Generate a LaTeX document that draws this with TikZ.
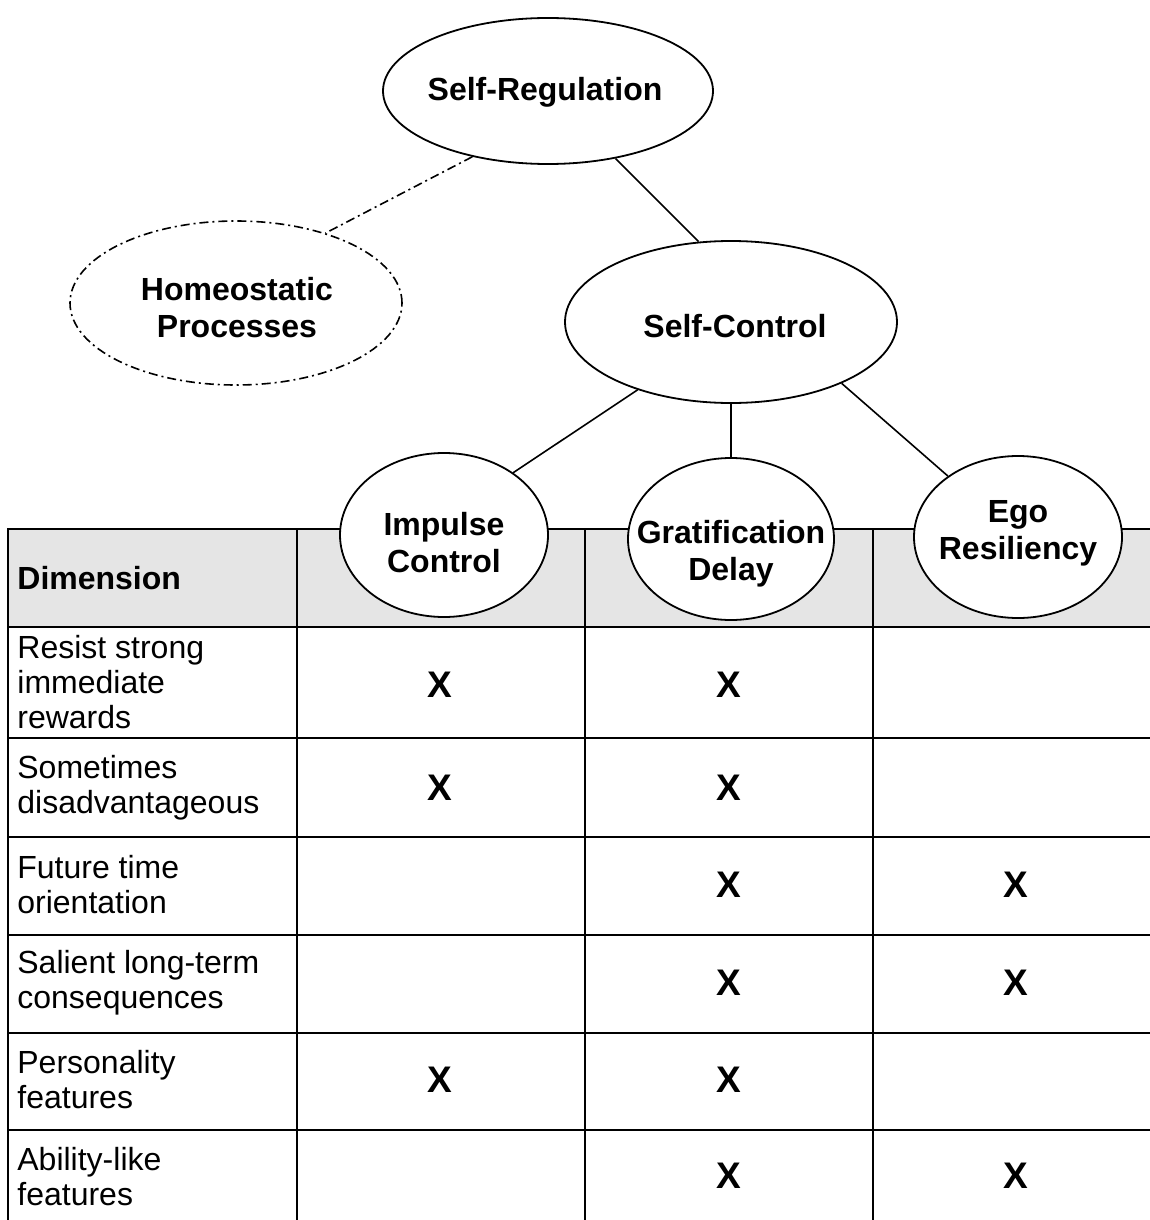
\documentclass[tikz,border=0pt]{standalone}
\usepackage{fontspec}
\setmainfont{Liberation Sans}
\usetikzlibrary{shapes.geometric}
\begin{document}
\begin{tikzpicture}[x=0.5pt,y=-0.5pt,
  bub/.style={draw,ellipse,fill=white,line width=0.9pt,inner sep=0pt},
  hp/.style={draw,ellipse,fill=white,line width=0.8pt,inner sep=0pt,dash pattern=on 4.5pt off 2pt on 1pt off 2pt},
  btxt/.style={font=\fontsize{16}{18.5}\selectfont\bfseries,align=center,inner sep=0pt},
  rtxt/.style={font=\fontsize{16}{17.5}\selectfont,align=left,anchor=west,inner sep=0pt},
  xmark/.style={font=\fontsize{18.5}{20}\selectfont\bfseries,inner sep=0pt},
  tline/.style={line width=1.2pt},
  conn/.style={line width=0.8pt}]
\useasboundingbox (0,0) rectangle (1150,1220);
% header background
\fill[gray!20] (8,529) rectangle (1152,627);
% table grid
\draw[tline] (1152,529) -- (8,529) -- (8,1222);
\foreach \x in {297,585,873} \draw[tline] (\x,529) -- (\x,1222);
\foreach \y in {627,738,837,935,1033,1130} \draw[tline] (8,\y) -- (1152,\y);
% ellipses
\node[bub,minimum width=165pt,minimum height=73pt] (SR) at (548,91) {};
\node[hp,minimum width=166pt,minimum height=82pt] (HP) at (236,303) {};
\node[bub,minimum width=166pt,minimum height=81pt] (SC) at (731,322) {};
\node[bub,minimum width=104pt,minimum height=82pt] (IC) at (444,535) {};
\node[bub,minimum width=103pt,minimum height=81pt] (GD) at (731,539) {};
\node[bub,minimum width=104pt,minimum height=81pt] (ER) at (1018,537) {};
% connectors
\draw[conn] (SR.-45) -- (SC.112);
\draw[conn,dash pattern=on 4.5pt off 2pt on 1pt off 2pt] (SR.221.6) -- (HP.38.7);
\draw[conn] (SC.216.5) -- (IC.42.4);
\draw[conn] (SC.south) -- (GD.north);
\draw[conn] (SC.-29) -- (ER.139.8);
% ellipse labels
\node[btxt] (tSR) at (545,92) {Self-Regulation};
\node[btxt] (tHP) at (237,308) {Homeostatic\\Processes};
\node[btxt] (tSC) at (735,326) {Self-Control};
\node[btxt] (tIC) at (444,543) {Impulse\\Control};
\node[btxt] (tGD) at (731,554) {Gratification\\Delay};
\node[btxt] (tER) at (1018,533) {Ego\\Resiliency};
% table text
\node[rtxt,font=\fontsize{16}{17.5}\selectfont\bfseries] (dim) at (17,578) {Dimension};
\node[rtxt] (r1) at (17,682) {Resist strong\\immediate\\rewards};
\node[rtxt] (r2) at (17,788) {Sometimes\\disadvantageous};
\node[rtxt] (r3) at (17,885) {Future time\\orientation};
\node[rtxt] (r4) at (17,983) {Salient long-term\\consequences};
\node[rtxt] (r5) at (17,1080) {Personality\\features};
\node[rtxt] (r6) at (17,1177) {Ability-like\\features};
% marks
\node[xmark] (x11) at (440,685) {X};
\node[xmark] (x12) at (729,685) {X};
\node[xmark] (x21) at (440,788) {X};
\node[xmark] (x22) at (729,788) {X};
\node[xmark] (x32) at (729,885) {X};
\node[xmark] (x33) at (1016,885) {X};
\node[xmark] (x42) at (729,983) {X};
\node[xmark] (x43) at (1016,983) {X};
\node[xmark] (x51) at (440,1080) {X};
\node[xmark] (x52) at (729,1080) {X};
\node[xmark] (x62) at (729,1176) {X};
\node[xmark] (x63) at (1016,1176) {X};
\end{tikzpicture}
\end{document}
